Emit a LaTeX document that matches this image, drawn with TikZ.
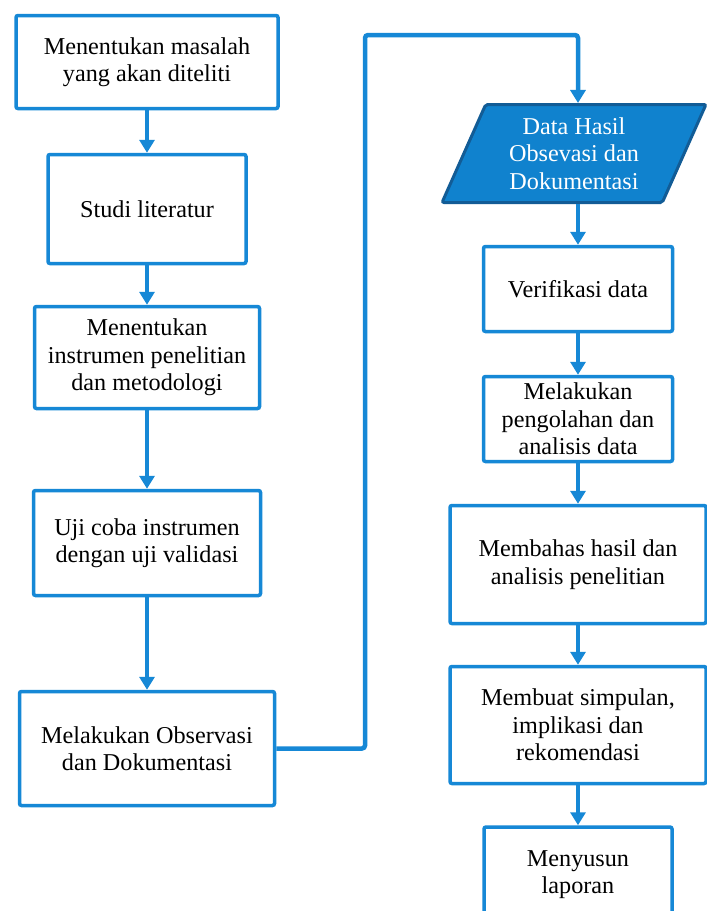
\documentclass[tikz,border=0pt]{standalone}
\usepackage{fontspec}
\setmainfont{Liberation Serif}
\usetikzlibrary{arrows.meta,shapes.geometric}
\definecolor{lineblue}{RGB}{22,136,214}
\definecolor{fillblue}{RGB}{16,130,206}
\definecolor{darkblue}{RGB}{18,92,150}
\tikzset{
  stepbox/.style={draw=lineblue, line width=3.5pt, rounded corners=2pt, fill=white,
    align=center, inner sep=2pt,
    font=\fontsize{24.2}{27.5}\selectfont},
  arr/.style={draw=lineblue, line width=4.5pt, rounded corners=3pt,
    -{Triangle[width=15pt,length=13pt]}},
}
\begin{document}
\begin{tikzpicture}[x=1pt,y=-1pt]
\clip (0,0) rectangle (707,911);
\fill[white] (0,0) rectangle (707,911);
% left column
\node[stepbox, minimum width=262pt, minimum height=93pt] (n1) at (147,62) {Menentukan masalah\\yang akan diteliti};
\node[stepbox, minimum width=198pt, minimum height=109pt] (n2) at (147,209) {Studi literatur};
\node[stepbox, minimum width=225pt, minimum height=102pt] (n3) at (147,357.5) {Menentukan\\instrumen penelitian\\dan metodologi};
\node[stepbox, minimum width=227pt, minimum height=105pt] (n4) at (147,543) {Uji coba instrumen\\dengan uji validasi};
\node[stepbox, minimum width=255pt, minimum height=114pt] (n5) at (147,748.5) {Melakukan Observasi\\dan Dokumentasi};
% right column
\node[trapezium, trapezium left angle=66, trapezium right angle=114, trapezium stretches=true,
  draw=darkblue, fill=fillblue, line width=3pt, rounded corners=2pt, text=white, align=center,
  minimum width=264pt, minimum height=98pt, inner sep=0pt,
  font=\fontsize{24.2}{27.5}\selectfont] (data) at (574,153.5) {Data Hasil\\Obsevasi dan\\Dokumentasi};
\node[stepbox, minimum width=189pt, minimum height=85pt] (r1) at (578,289) {Verifikasi data};
\node[stepbox, minimum width=189pt, minimum height=85pt] (r2) at (578,419) {Melakukan\\pengolahan dan\\analisis data};
\node[stepbox, minimum width=256pt, minimum height=118pt] (r3) at (578,564.5) {Membahas hasil dan\\analisis penelitian};
\node[stepbox, minimum width=256pt, minimum height=117pt] (r4) at (578,725) {Membuat simpulan,\\implikasi dan\\rekomendasi};
\node[stepbox, minimum width=188pt, minimum height=110pt] (r5) at (578,882) {};
\node[font=\fontsize{24.2}{27.5}\selectfont, align=center, anchor=north] (r5t) at (578,847) {Menyusun\\laporan};
% connectors
\coordinate (c1) at (365,35);
\draw[arr] (n1.south) -- (n2.north);
\draw[arr] (n2.south) -- (n3.north);
\draw[arr] (n3.south) -- (n4.north);
\draw[arr] (n4.south) -- (n5.north);
\draw[arr] (n5.east) -| (c1) -| (data.north -| r1.north);
\draw[arr] (data.south -| r1.north) -- (r1.north);
\draw[arr] (r1.south) -- (r2.north);
\draw[arr] (r2.south) -- (r3.north);
\draw[arr] (r3.south) -- (r4.north);
\draw[arr] (r4.south) -- (r5.north);
\end{tikzpicture}
\end{document}
